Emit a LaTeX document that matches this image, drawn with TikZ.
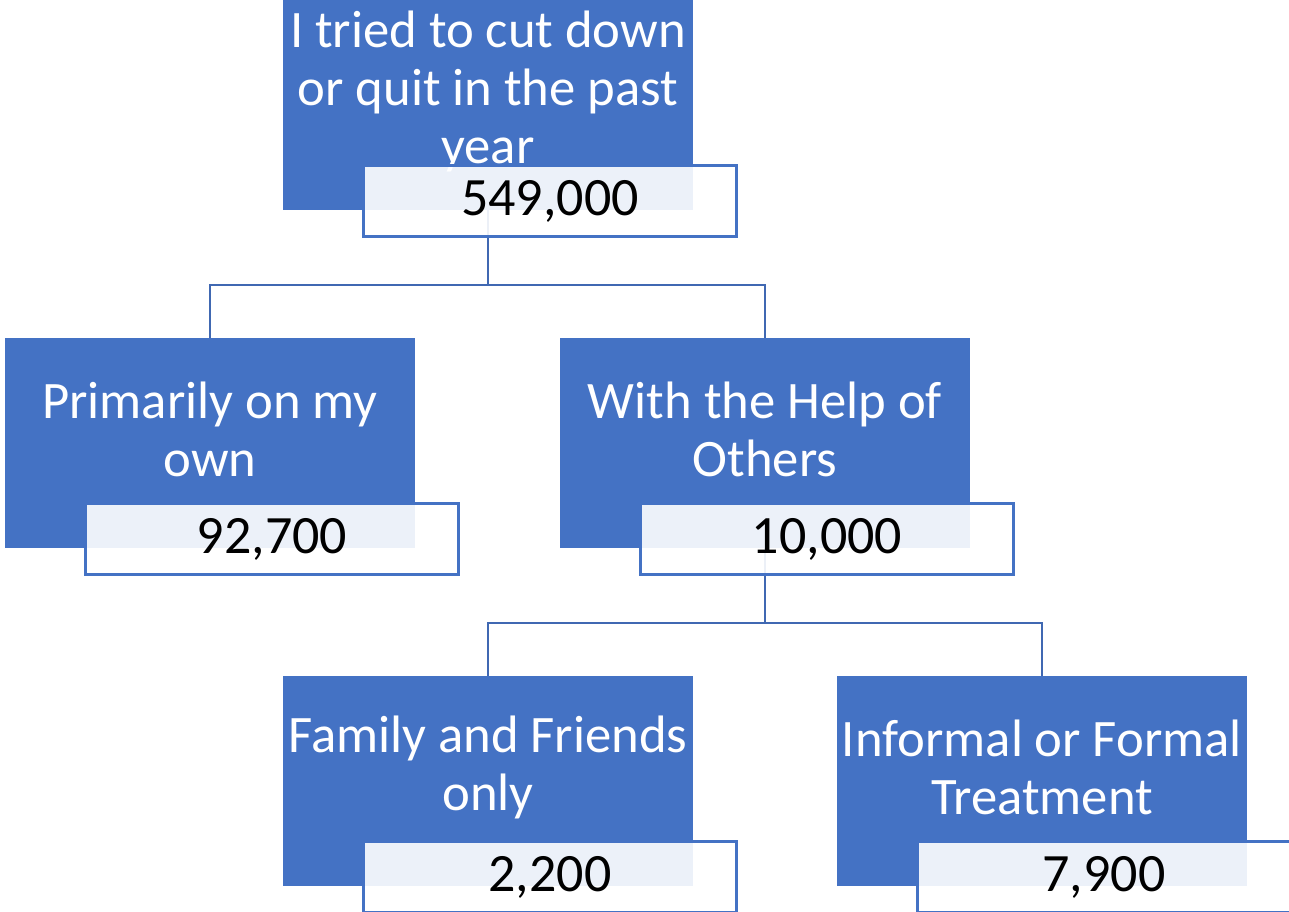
\documentclass[tikz,border=0pt]{standalone}
\usepackage{fontspec}
\setmainfont{Carlito}
\usetikzlibrary{positioning}
\definecolor{orgblue}{HTML}{4472C4}
\definecolor{linkblue}{HTML}{4068B2}
\tikzstyle{unit} = [rectangle,
minimum width=307.5pt,
minimum height=157.5pt,
inner sep=0pt,
fill=orgblue]
\tikzstyle{unittext} = [align=center,
inner sep=0pt,
text=white,
font=\fontsize{39.5}{43.5}\selectfont]
\tikzstyle{tag} = [rectangle,
minimum width=279.75pt,
minimum height=53.25pt,
inner sep=0pt,
text centered,
draw=orgblue, line width=1.6pt,
fill=white, fill opacity=0.9, text opacity=1,
font=\fontsize{40.5}{46}\selectfont]
\tikzstyle{link} = [draw=linkblue, line width=1.6pt]

\begin{document}
\begin{tikzpicture}[x=0.75pt, y=-0.75pt]
			\useasboundingbox (0,0) rectangle (1289,912);
			\clip (0,0) rectangle (1289,912);
			% boxes
			\node (quit) [unit] at (488,105) {};
			\node (own) [unit] at (210,443) {};
			\node (help) [unit] at (765,443) {};
			\node (family) [unit] at (488,781) {};
			\node (treat) [unit] at (1042,781) {};

			\node (quittext) [unittext] at ([yshift=10.5pt]quit.center) {I tried to cut down\\or quit in the past\\year};
			\node (owntext) [unittext] at ([yshift=10.5pt]own.center) {Primarily on my\\own};
			\node (helptext) [unittext] at ([yshift=10.5pt]help.center) {With the Help of\\Others};
			\node (familytext) [unittext] at ([yshift=10.5pt]family.center) {Family and Friends\\only};
			\node (treattext) [unittext] at ([yshift=10.5pt]treat.center) {Informal or Formal\\Treatment};

			% connectors
			\coordinate (fork1) at ([yshift=-56.25pt]quit.south);
			\coordinate (fork2) at ([yshift=-56.25pt]help.south);
			\draw[link] (quit.south) -- (fork1) -| (own.north)
							(fork1) -| (help.north);
			\draw[link] (help.south) -- (fork2) -| (family.north)
							(fork2) -| (treat.north);

			% counts
			\node (quitn) [tag] at ([xshift=46.5pt,yshift=-72pt]quit.center) {549,000};
			\node (ownn) [tag] at ([xshift=46.5pt,yshift=-72pt]own.center) {92,700};
			\node (helpn) [tag] at ([xshift=46.5pt,yshift=-72pt]help.center) {10,000};
			\node (familyn) [tag] at ([xshift=46.5pt,yshift=-72pt]family.center) {2,200};
			\node (treatn) [tag] at ([xshift=46.5pt,yshift=-72pt]treat.center) {7,900};
		\end{tikzpicture}
\end{document}
